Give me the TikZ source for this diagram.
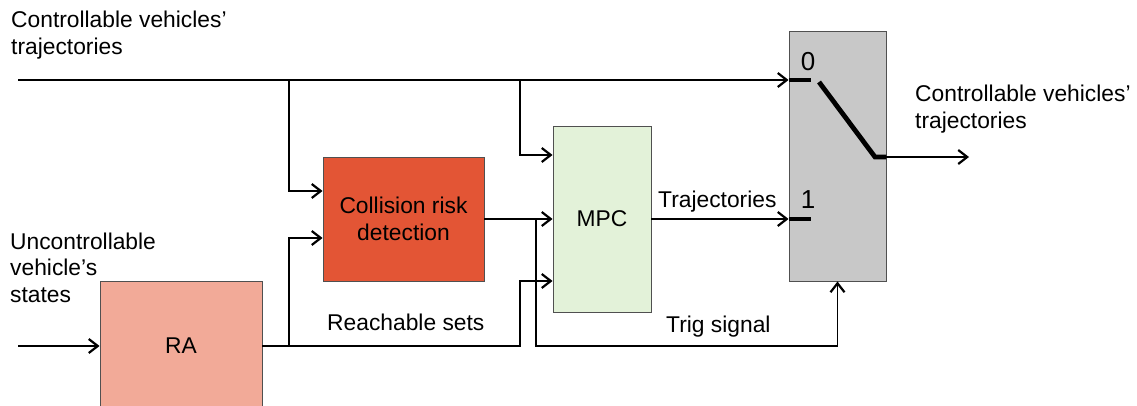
\documentclass[tikz,border=0pt]{standalone}
\usepackage{fontspec}
\setmainfont{Liberation Sans}
\usetikzlibrary{arrows.meta}
\definecolor{rafill}{HTML}{F2AA98}
\definecolor{crdfill}{HTML}{E35535}
\definecolor{mpcfill}{HTML}{E3F2D9}
\definecolor{swfill}{HTML}{C8C8C8}
\definecolor{edge}{HTML}{505050}
\begin{document}
\begin{tikzpicture}[x=1pt,y=-1pt,
  every node/.style={font=\fontsize{22.8}{26.5}\selectfont},
  blk/.style={draw=edge, line width=0.9pt, rectangle, inner sep=0pt},
  wire/.style={line width=1.4pt},
  arr/.style={wire, -{Straight Barb[length=9pt,width=14pt,line width=2.2pt]}},
  swl/.style={line width=4.8pt, line cap=butt},
  lbl/.style={inner sep=0pt, align=left},
  digit/.style={inner sep=0pt, font=\fontsize{26}{30}\selectfont}
]
\useasboundingbox (0,0) rectangle (1137,405);
\clip (0,0) rectangle (1137,405);

% blocks
\node[blk, fill=rafill, minimum width=162pt, minimum height=130pt] (ra) at (181,346) {RA};
\node[blk, fill=crdfill, minimum width=161pt, minimum height=124pt, align=center] (crd) at (403.5,219) {Collision risk\\detection};
\node[blk, fill=mpcfill, minimum width=98pt, minimum height=186pt] (mpc) at (602,219) {MPC};
\node[blk, fill=swfill, minimum width=97pt, minimum height=250pt] (sw) at (837.5,156) {};

% coordinates
\coordinate (in1) at (18,80);
\coordinate (in2) at (18,346);
\coordinate (t0) at (sw.west |- in1);
\coordinate (t1) at (sw.west |- mpc.east);
\coordinate (j1) at (289,80);
\coordinate (j2) at (520,80);
\coordinate (j3) at (289,346);
\coordinate (k) at (520,346);
\coordinate (j4) at (536,219);
\coordinate (bl) at (819,82);
\coordinate (bc) at (875,157);
\coordinate (bj) at (sw.east |- bc);
\coordinate (out) at (969,157);

% connectors
\draw[arr] (in1) -- (t0);
\draw[arr] (j1) |- ([yshift=28pt]crd.west);
\draw[arr] (j2) |- ([yshift=64pt]mpc.west);
\draw[arr] (in2) -- (ra.west |- in2);
\draw[arr] (ra.east |- k) -- (k) |- ([yshift=-62pt]mpc.west);
\draw[arr] (j3) |- ([yshift=-19pt]crd.west);
\draw[arr] (crd.east) -- (mpc.west);
\draw[arr] (j4) |- (sw.south |- k) -- (sw.south);
\draw[arr] (mpc.east) -- (t1);
\draw[arr] (bj) -- (out);

% switch internals
\draw[swl] (t0) -- ++(22,0);
\draw[swl] (t1) -- ++(22,0);
\draw[swl, line join=miter] (bl) -- (bc) -- (bj);

% labels
\node[digit] (l0) at (808,62) {0};
\node[digit] (l1) at (808,200) {1};
\node[lbl, anchor=base west] (ltr) at (658,207) {Trajectories};
\node[lbl, anchor=base west] (ltrig) at (666,332) {Trig signal};
\node[lbl, anchor=base west] (lrs) at (327,330) {Reachable sets};
\node[lbl, anchor=base west] (lin1) at (11,54) {Controllable vehicles’\\trajectories};
\node[lbl, anchor=base west] (lout) at (915,128) {Controllable vehicles’\\trajectories};
\node[lbl, anchor=base west] (lin2) at (10,302) {Uncontrollable\\vehicle’s\\states};
\end{tikzpicture}
\end{document}
